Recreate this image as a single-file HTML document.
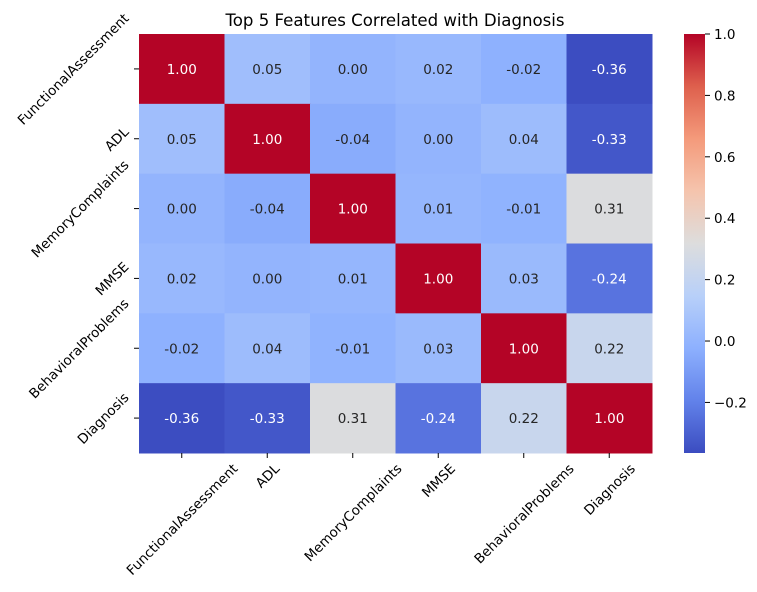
<!DOCTYPE html>
<html><head><meta charset="utf-8"><style>
html,body{margin:0;padding:0;background:#fff;}
svg{display:block;font-family:"DejaVu Sans","Liberation Sans",sans-serif;}
</style></head><body>
<svg id="chart" width="757" height="592" viewBox="0 0 757 592">
<defs>
<linearGradient id="cbgrad" x1="0" y1="1" x2="0" y2="0">
<stop offset="0" stop-color="rgb(59,76,192)"/>
<stop offset="0.125" stop-color="rgb(98,130,234)"/>
<stop offset="0.25" stop-color="rgb(141,176,254)"/>
<stop offset="0.375" stop-color="rgb(184,208,249)"/>
<stop offset="0.5" stop-color="rgb(221,221,221)"/>
<stop offset="0.625" stop-color="rgb(245,196,173)"/>
<stop offset="0.75" stop-color="rgb(244,154,123)"/>
<stop offset="0.875" stop-color="rgb(222,96,77)"/>
<stop offset="1" stop-color="rgb(180,4,38)"/>
</linearGradient>
</defs>
<text x="395" y="26" text-anchor="middle" font-size="16.6" fill="#000">Top 5 Features Correlated with Diagnosis</text>
<g id="cells"></g>
<g id="xlabels"></g>
<g id="ylabels"></g>
<rect x="684" y="34" width="21" height="419" fill="url(#cbgrad)"/>
<g id="cbticks"></g>
</svg>
<script>
const labels = ["FunctionalAssessment","ADL","MemoryComplaints","MMSE","BehavioralProblems","Diagnosis"];
const row0 = [1.00, 0.05, 0.00, 0.02, -0.02, -0.36];
const row1 = [0.05, 1.00, -0.04, 0.00, 0.04, -0.33];
const row2 = [0.00, -0.04, 1.00, 0.01, -0.01, 0.31];
const row3 = [0.02, 0.00, 0.01, 1.00, 0.03, -0.24];
const row4 = [-0.02, 0.04, -0.01, 0.03, 1.00, 0.22];
const row5 = [-0.36, -0.33, 0.31, -0.24, 0.22, 1.00];
const cbTicks = [-0.2, 0.0, 0.2, 0.4, 0.6, 0.8, 1.0];
const vmin = -0.3647, vmax = 1.0;

const NS = "http://www.w3.org/2000/svg";
const L = 139, T = 34, R = 652, B = 453;
const rows = [row0,row1,row2,row3,row4,row5];
const n = labels.length;
const cw = (R - L) / n, ch = (B - T) / n;
const xPos = i => L + i * cw;
const yPos = i => T + i * ch;
const cbY = v => T + (vmax - v) / (vmax - vmin) * (B - T);

const stops = [[59,76,192],[98,130,234],[141,176,254],[184,208,249],[221,221,221],[245,196,173],[244,154,123],[222,96,77],[180,4,38]];
function cmap(v){
  let t = (v - vmin) / (vmax - vmin); t = Math.max(0, Math.min(1, t));
  const p = t * 8, i = Math.min(7, Math.floor(p)), f = p - i;
  const a = stops[i], b = stops[i+1];
  return [0,1,2].map(k => Math.round(a[k] + (b[k]-a[k]) * f));
}
function lum(c){
  const l = c.map(x => { x/=255; return x <= 0.03928 ? x/12.92 : Math.pow((x+0.055)/1.055, 2.4); });
  return 0.2126*l[0] + 0.7152*l[1] + 0.0722*l[2];
}
const cells = document.getElementById('cells');
rows.forEach((row, r) => {
  row.forEach((v, c) => {
    const col = cmap(v);
    const rect = document.createElementNS(NS, 'rect');
    rect.setAttribute('x', xPos(c)); rect.setAttribute('y', yPos(r));
    rect.setAttribute('width', cw + 0.5); rect.setAttribute('height', ch + 0.5);
    rect.setAttribute('fill', `rgb(${col.join(',')})`);
    
    
    cells.appendChild(rect);
    const tx = document.createElementNS(NS, 'text');
    tx.setAttribute('x', xPos(c) + cw/2); tx.setAttribute('y', yPos(r) + ch/2 + 5);
    tx.setAttribute('text-anchor', 'middle'); tx.setAttribute('font-size', '13.5');
    tx.setAttribute('fill', lum(col) > 0.408 ? '#262626' : '#ffffff');
    tx.textContent = v.toFixed(2);
    
    
    cells.appendChild(tx);
  });
});
const xl = document.getElementById('xlabels');
const yl = document.getElementById('ylabels');
labels.forEach((lab, i) => {
  const cx = xPos(i) + cw/2;
  const tk = document.createElementNS(NS, 'line');
  tk.setAttribute('x1', cx); tk.setAttribute('x2', cx); tk.setAttribute('y1', B); tk.setAttribute('y2', B + 5);
  tk.setAttribute('stroke', '#000'); tk.setAttribute('stroke-width', '1');
  
  
  xl.appendChild(tk);
  const t = document.createElementNS(NS, 'text');
  t.setAttribute('font-size', '13.5'); t.setAttribute('text-anchor', 'middle');
  t.textContent = lab;
  xl.appendChild(t);
  const lenx = t.getComputedTextLength();
  const mcy = B + 8 + (lenx + 14) * 0.3536;
  t.setAttribute('x', cx); t.setAttribute('y', mcy + 5);
  t.setAttribute('transform', `rotate(-45 ${cx} ${mcy})`);
  
  

  const cy = yPos(i) + ch/2;
  const tk2 = document.createElementNS(NS, 'line');
  tk2.setAttribute('x1', L - 5); tk2.setAttribute('x2', L); tk2.setAttribute('y1', cy); tk2.setAttribute('y2', cy);
  tk2.setAttribute('stroke', '#000'); tk2.setAttribute('stroke-width', '1');
  
  
  yl.appendChild(tk2);
  const t2 = document.createElementNS(NS, 'text');
  t2.setAttribute('font-size', '13.5'); t2.setAttribute('text-anchor', 'middle');
  t2.textContent = lab;
  yl.appendChild(t2);
  const len = t2.getComputedTextLength();
  const mcx = L - 8 - (len + 14) * 0.3536;
  t2.setAttribute('x', mcx); t2.setAttribute('y', cy + 5);
  t2.setAttribute('transform', `rotate(-45 ${mcx} ${cy})`);
  
  
});
const cbt = document.getElementById('cbticks');
cbTicks.forEach(v => {
  const y = cbY(v);
  const tk = document.createElementNS(NS, 'line');
  tk.setAttribute('x1', 705); tk.setAttribute('x2', 710); tk.setAttribute('y1', y); tk.setAttribute('y2', y);
  tk.setAttribute('stroke', '#000');
  
  
  cbt.appendChild(tk);
  const t = document.createElementNS(NS, 'text');
  t.setAttribute('x', 714); t.setAttribute('y', y + 5); t.setAttribute('font-size', '13.5');
  t.textContent = (v < 0 ? '\u2212' + Math.abs(v).toFixed(1) : v.toFixed(1));
  
  
  cbt.appendChild(t);
});
</script>
</body></html>
